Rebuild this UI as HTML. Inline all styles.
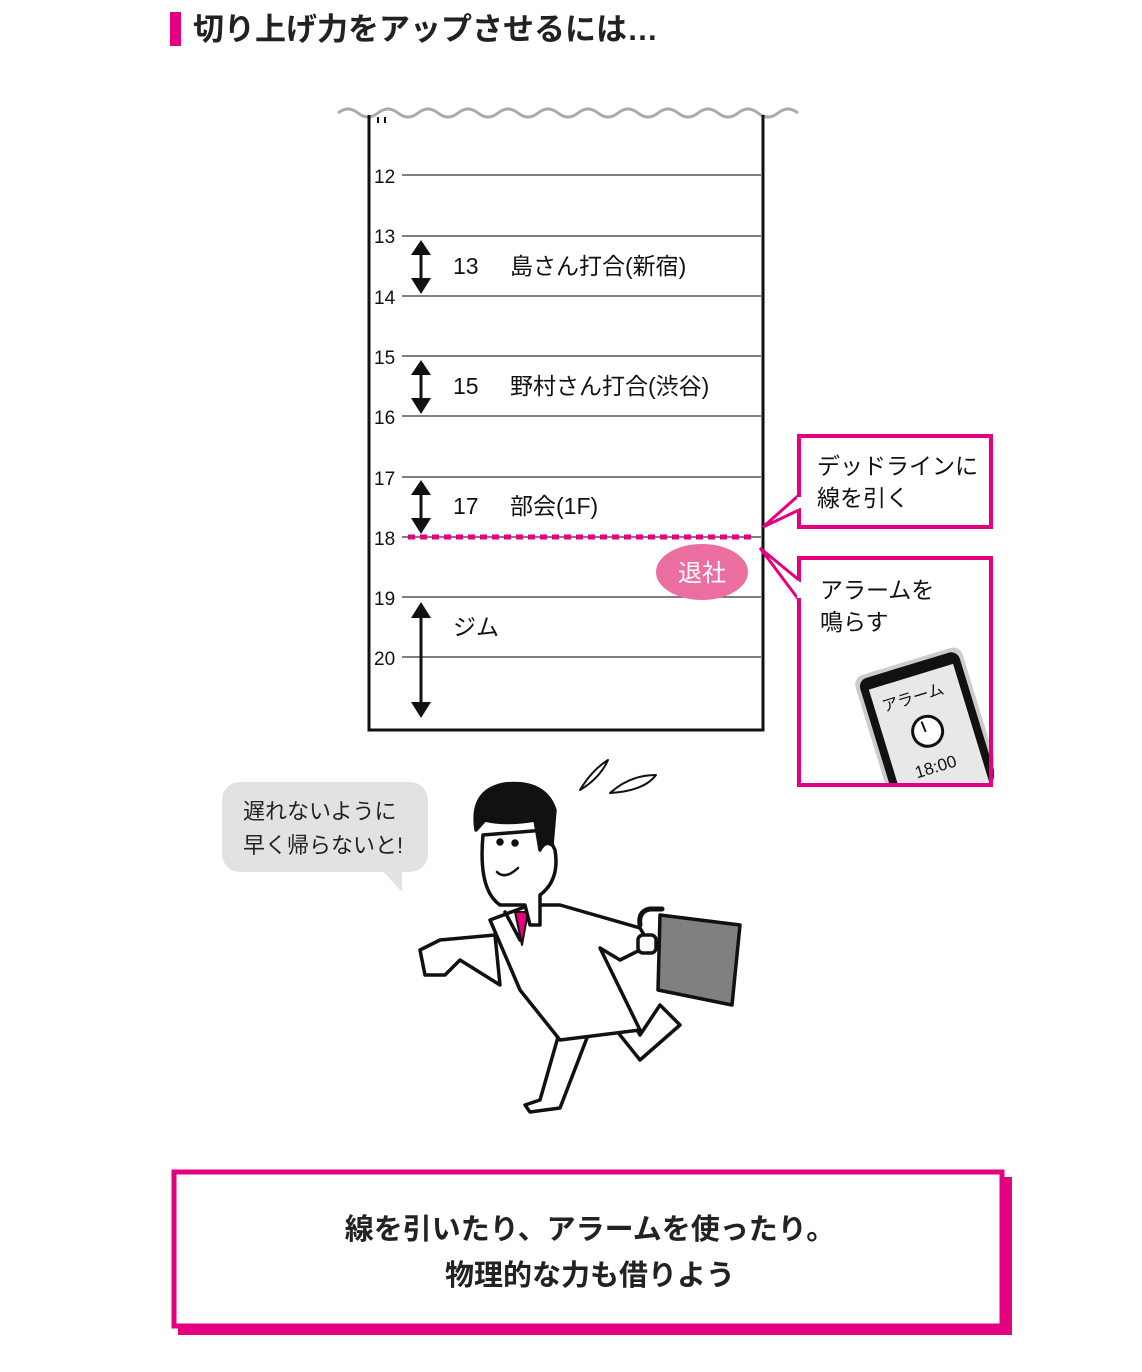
<!DOCTYPE html>
<html><head><meta charset="utf-8"><style>
html,body{margin:0;padding:0;background:#fff;}
svg{display:block;}
text{font-family:"Liberation Sans","Noto Sans CJK JP",sans-serif;}
</style></head><body>
<svg width="1142" height="1372" viewBox="0 0 1142 1372" xmlns="http://www.w3.org/2000/svg">
<!-- title -->
<rect x="170" y="12" width="11" height="34" fill="#e4007f"/>
<text x="193" y="40" font-size="31" font-weight="bold" fill="#222">切り上げ力をアップさせるには…</text>

<!-- schedule -->
<path d="M338 113 q10 -8 20 0 t20 0 t20 0 t20 0 t20 0 t20 0 t20 0 t20 0 t20 0 t20 0 t20 0 t20 0 t20 0 t20 0 t20 0 t20 0 t20 0 t20 0 t20 0 t20 0 t20 0 t20 0 t20 0" fill="none" stroke="#aaa" stroke-width="3"/>
<path d="M369 115 V730 H763 V115" fill="none" stroke="#111" stroke-width="3"/>
<line x1="378" y1="117" x2="378" y2="123" stroke="#111" stroke-width="2"/>
<line x1="385" y1="117" x2="385" y2="123" stroke="#111" stroke-width="2"/>
<g stroke="#555" stroke-width="1.5">
<line x1="402" y1="175" x2="761" y2="175"/><line x1="402" y1="236" x2="761" y2="236"/>
<line x1="402" y1="296" x2="761" y2="296"/><line x1="402" y1="356" x2="761" y2="356"/>
<line x1="402" y1="416" x2="761" y2="416"/><line x1="402" y1="477" x2="761" y2="477"/>
<line x1="402" y1="537" x2="761" y2="537"/><line x1="402" y1="597" x2="761" y2="597"/>
<line x1="402" y1="657" x2="761" y2="657"/>
</g>
<g font-size="19" fill="#111">
<text x="374" y="183">12</text><text x="374" y="243">13</text><text x="374" y="304">14</text>
<text x="374" y="364">15</text><text x="374" y="424">16</text><text x="374" y="485">17</text>
<text x="374" y="545">18</text><text x="374" y="605">19</text><text x="374" y="665">20</text>
</g>
<g fill="#111" stroke="#111" stroke-width="3">
<line x1="421" y1="248" x2="421" y2="285"/><polygon points="411,255 421,240 431,255" stroke="none"/><polygon points="411,278 421,294 431,278" stroke="none"/>
<line x1="421" y1="368" x2="421" y2="405"/><polygon points="411,375 421,360 431,375" stroke="none"/><polygon points="411,398 421,414 431,398" stroke="none"/>
<line x1="421" y1="488" x2="421" y2="525"/><polygon points="411,495 421,480 431,495" stroke="none"/><polygon points="411,518 421,534 431,518" stroke="none"/>
<line x1="421" y1="612" x2="421" y2="708"/><polygon points="411,618 421,602 431,618" stroke="none"/><polygon points="411,702 421,718 431,702" stroke="none"/>
</g>
<g font-size="23" fill="#111">
<text x="453" y="274">13</text><text x="510" y="274">島さん打合(新宿)</text>
<text x="453" y="394">15</text><text x="510" y="394">野村さん打合(渋谷)</text>
<text x="453" y="514">17</text><text x="510" y="514">部会(1F)</text>
<text x="453" y="635">ジム</text>
</g>
<line x1="408" y1="537" x2="752" y2="537" stroke="#e4007f" stroke-width="5" stroke-dasharray="7,5"/>
<ellipse cx="702" cy="572" rx="46" ry="28" fill="#ea6fa0"/>
<text x="702" y="581" font-size="24" fill="#fff" text-anchor="middle">退社</text>

<!-- callouts -->
<rect x="799" y="436" width="192" height="91" fill="#fff" stroke="#e4007f" stroke-width="4"/>
<polyline points="799,495 763,527 799,510" fill="#fff" stroke="#e4007f" stroke-width="3"/>
<rect x="797" y="497" width="5" height="11" fill="#fff"/>
<text x="817" y="474" font-size="23" fill="#111">デッドラインに</text>
<text x="817" y="506" font-size="23" fill="#111">線を引く</text>
<rect x="799" y="558" width="192" height="227" fill="#fff" stroke="#e4007f" stroke-width="4"/>
<polyline points="799,580 760,548 799,600" fill="#fff" stroke="#e4007f" stroke-width="3"/>
<rect x="797" y="582" width="5" height="16" fill="#fff"/>
<text x="820" y="598" font-size="23" fill="#111">アラームを</text>
<text x="820" y="630" font-size="23" fill="#111">鳴らす</text>
<g transform="rotate(-17 920 720)">
<rect x="868" y="660" width="112" height="140" rx="10" fill="#ccc"/>
<rect x="872" y="664" width="104" height="136" rx="9" fill="#111"/>
<rect x="880" y="676" width="88" height="124" fill="#e8e8e8"/>
<text x="888" y="702" font-size="16" fill="#111">アラーム</text>
<circle cx="924" cy="733" r="15" fill="#fff" stroke="#111" stroke-width="3"/>
<line x1="922" y1="733" x2="921" y2="722" stroke="#111" stroke-width="2"/>
<text x="900" y="775" font-size="17" fill="#111">18:00</text>
</g>
<rect x="994" y="640" width="40" height="150" fill="#fff"/>
<rect x="840" y="787" width="160" height="30" fill="#fff"/>
<line x1="991" y1="556" x2="991" y2="787" stroke="#e4007f" stroke-width="4"/>
<line x1="797" y1="785" x2="993" y2="785" stroke="#e4007f" stroke-width="4"/>

<!-- speech bubble -->
<rect x="222" y="782" width="206" height="90" rx="18" fill="#e2e2e2"/>
<polygon points="380,868 402,868 402,892" fill="#e2e2e2"/>
<text x="243" y="819" font-size="22" fill="#222">遅れないように</text>
<text x="243" y="853" font-size="22" fill="#222">早く帰らないと!</text>

<!-- character -->
<g stroke="#111" stroke-width="3.5" fill="#fff" stroke-linejoin="round" stroke-linecap="round">
<path d="M580 790 q12 -20 28 -30 q-8 18 -28 30z" fill="none" stroke-width="2"/>
<path d="M610 793 q20 -18 46 -18 q-12 16 -46 18z" fill="none" stroke-width="2"/>
<path d="M560 1030 L540 1100 L525 1105 L530 1112 L560 1108 L590 1030z"/>
<path d="M600 1010 L640 1060 L680 1025 L660 1005 L640 1035 L620 1000z"/>
<path d="M495 935 L440 940 L420 950 L425 975 L445 975 L460 960 L500 985z"/>
<path d="M490 920 L530 905 L560 905 L640 928 L650 945 L620 960 L600 948 L640 1030 L560 1040 L520 990z"/>
<path d="M505 912 L520 940 L528 912" fill="none"/>
<path d="M515 912 L522 945 L528 912z" fill="#e4007f" stroke-width="2"/>
<path d="M483 835 Q478 890 500 905 L525 905 L530 925 L540 925 L540 895 Q560 880 555 850 L545 830z"/>
<path d="M476 830 Q470 790 505 784 Q545 780 555 810 L552 845 Q545 840 540 850 L535 820 Q505 825 485 820z" fill="#111"/>
<circle cx="500" cy="842" r="2" fill="#111"/><circle cx="515" cy="843" r="2" fill="#111"/>
<path d="M497 872 Q505 880 518 868" fill="none" stroke-width="2.5"/>
<path d="M640 925 q-2 -14 10 -16 l12 0" fill="none" stroke-width="5"/>
<rect x="638" y="935" width="18" height="18" rx="5"/>
<path d="M660 915 L740 925 L732 1005 L658 990z" fill="#808080"/>
</g>

<!-- bottom box -->
<rect x="178" y="1177" width="834" height="158" fill="#e4007f"/>
<rect x="174" y="1172" width="828" height="154" fill="#fff" stroke="#e4007f" stroke-width="5"/>
<text x="590" y="1239" font-size="29" font-weight="bold" fill="#222" text-anchor="middle">線を引いたり、アラームを使ったり。</text>
<text x="590" y="1285" font-size="29" font-weight="bold" fill="#222" text-anchor="middle">物理的な力も借りよう</text>
</svg>
</body></html>
